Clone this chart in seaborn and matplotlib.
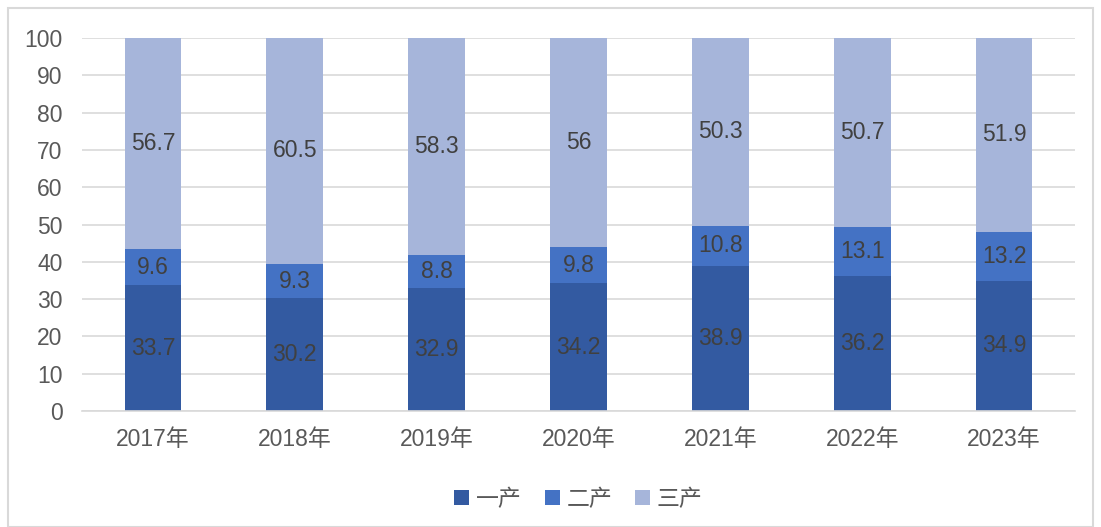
import matplotlib
matplotlib.use("Agg")
import matplotlib.pyplot as plt
import seaborn as sns
import pandas as pd
from matplotlib.patches import Rectangle

# Données
years = ["2017年", "2018年", "2019年", "2020年", "2021年", "2022年", "2023年"]
primary = [33.7, 30.2, 32.9, 34.2, 38.9, 36.2, 34.9]
secondary = [9.6, 9.3, 8.8, 9.8, 10.8, 13.1, 13.2]
tertiary = [56.7, 60.5, 58.3, 56, 50.3, 50.7, 51.9]
series_names = ["一产", "二产", "三产"]
colors = ["#335AA1", "#4472C4", "#A6B5DA"]

sns.set_theme(style="white")
plt.rcParams['font.family'] = ['Liberation Sans', 'Noto Sans CJK SC', 'DejaVu Sans']

df = pd.DataFrame({"year": years, "一产": primary, "二产": secondary, "三产": tertiary})

fig = plt.figure(figsize=(11.01, 5.27), dpi=100)
ax = fig.add_axes([82 / 1101, 1 - 411 / 527, 993 / 1101, 373 / 527])

bottom = [0.0] * len(years)
for name, color in zip(series_names, colors):
    vals = df[name].tolist()
    sns.barplot(x=df["year"], y=vals, bottom=bottom, color=color, width=0.4,
                label=name, ax=ax, saturation=1, edgecolor="none")
    for i, v in enumerate(vals):
        ax.text(i, bottom[i] + v / 2, f"{v:g}", ha="center", va="center",
                fontsize=16.5, color="#404040")
    bottom = [b + v for b, v in zip(bottom, vals)]

ax.set_ylim(0, 100)
ax.set_xlim(-0.5, len(years) - 0.5)
ax.set_yticks(range(0, 101, 10))
ax.yaxis.grid(True, color="#D9D9D9", linewidth=1.2)
ax.set_axisbelow(True)
for s in ["top", "right", "left"]:
    ax.spines[s].set_visible(False)
ax.spines["bottom"].set_color("#D9D9D9")
ax.spines["bottom"].set_linewidth(1.2)
ax.tick_params(axis="both", length=0, labelsize=16.5, labelcolor="#595959")
ax.tick_params(axis="y", pad=14)
ax.tick_params(axis="x", pad=12)
ax.set_xlabel("")
ax.set_ylabel("")

ax.legend(loc="upper center", bbox_to_anchor=(0.5, -0.15), ncol=3, frameon=False,
          fontsize=16.5, handlelength=0.65, handleheight=0.65, columnspacing=1.0,
          handletextpad=0.3, labelcolor="#595959")

fig.patches.append(Rectangle((8 / 1101, 0), 1085 / 1101, 1 - 8 / 527, transform=fig.transFigure,
                             fill=False, edgecolor="#D9D9D9", linewidth=1.5))

fig.savefig("out.png", dpi=100)
